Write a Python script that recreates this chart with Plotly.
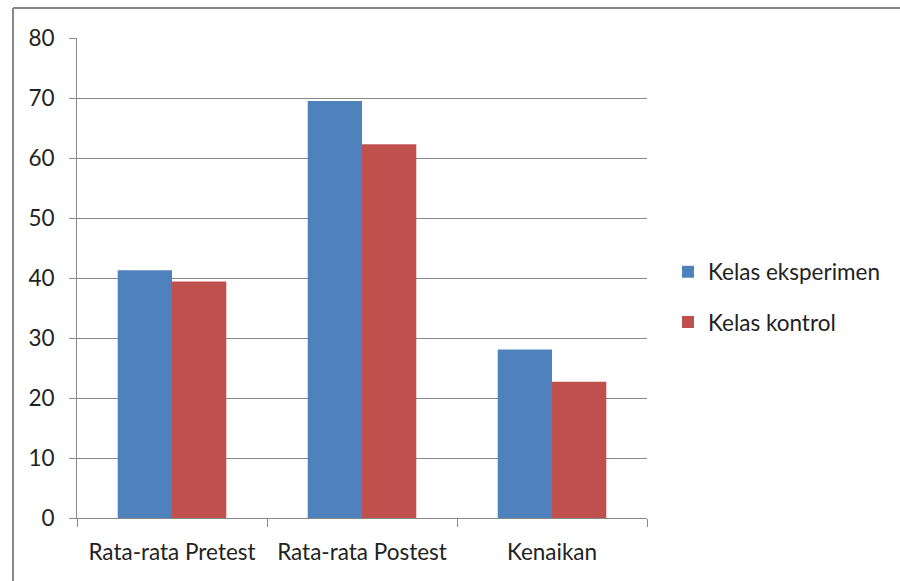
import plotly.graph_objects as go

categories = ["Rata-rata Pretest", "Rata-rata Postest", "Kenaikan"]
eksperimen = [41.3, 69.5, 28.1]
kontrol = [39.4, 62.3, 22.7]
series_names = ["Kelas eksperimen", "Kelas kontrol"]
y_ticks = [0, 10, 20, 30, 40, 50, 60, 70, 80]

FONT = "Lato"
FS = 22.5
W, H = 900, 581
L, R, T, B = 77, 253, 38, 63

fig = go.Figure()
fig.add_trace(go.Bar(x=categories, y=eksperimen, name=series_names[0],
                     legendgroup="a",
                     marker=dict(color="#4F81BD", line=dict(width=0))))
fig.add_trace(go.Bar(x=categories, y=kontrol, name=series_names[1],
                     legendgroup="b",
                     marker=dict(color="#C0504D", line=dict(width=0))))

fig.update_layout(
    width=W, height=H,
    margin=dict(l=L, r=R, t=T, b=B, pad=0),
    paper_bgcolor="white", plot_bgcolor="white",
    barmode="group", bargap=1.5 / 3.5, bargroupgap=0,
    font=dict(family=FONT, size=FS, color="#222"),
    legend=dict(x=(668 - L) / (W - L - R), xanchor="left",
                y=(518 - 297) / (518 - 38), yanchor="middle",
                font=dict(family=FONT, size=FS, color="#222"),
                tracegroupgap=18, itemwidth=30, bgcolor="rgba(0,0,0,0)"),
    showlegend=True,
)
fig.update_xaxes(showline=True, linecolor="#8a8a8a", linewidth=1,
                 ticks="outside", ticklen=8, tickcolor="#8a8a8a",
                 tickson="boundaries", showgrid=False,
                 ticklabelstandoff=14,
                 tickfont=dict(family=FONT, size=FS, color="#222"))
fig.update_yaxes(range=[0, 80], tickvals=y_ticks, showgrid=True,
                 gridcolor="#8a8a8a", gridwidth=1, zeroline=False,
                 showline=True, linecolor="#8a8a8a", linewidth=1,
                 ticks="outside", ticklen=7, tickcolor="#8a8a8a",
                 ticklabelstandoff=10,
                 tickfont=dict(family=FONT, size=FS, color="#222"))

# outer chart border (left and top edges)
fig.add_shape(type="line", xref="paper", yref="paper",
              x0=(13 - L) / (W - L - R), x1=(13 - L) / (W - L - R),
              y0=-(H - 518) / (518 - 38) - 0.01, y1=(518 - 8) / (518 - 38),
              line=dict(color="#888888", width=2))
fig.add_shape(type="line", xref="paper", yref="paper",
              x0=(13 - L) / (W - L - R), x1=(W - L) / (W - L - R) + 0.01,
              y0=(518 - 8) / (518 - 38), y1=(518 - 8) / (518 - 38),
              line=dict(color="#888888", width=2))

fig.write_html("out.html")
